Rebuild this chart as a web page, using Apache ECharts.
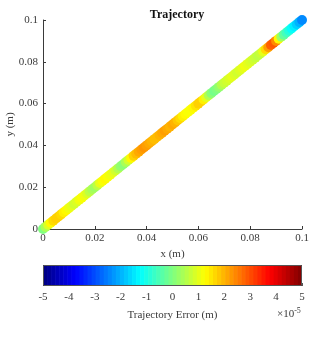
<!DOCTYPE html>
<html><head><meta charset="utf-8">
<script src="https://cdn.jsdelivr.net/npm/echarts@6/dist/echarts.min.js"></script>
<style>html,body{margin:0;padding:0;background:#fff}#c{width:334px;height:339px}</style>
</head><body><div id="c"></div>
<script>
// Trajectory positions (m)
var xPos = [];
var yPos = [];
for (var i = 0; i <= 100; i++) { xPos.push(+(i * 0.001).toFixed(3)); yPos.push(+(i * 0.001).toFixed(3)); }
// Trajectory error, in units of 1e-5 m
var errorE5 = [
 0.0, 0.4, 0.9, 1.3, 1.6, 1.7, 1.7, 1.6, 1.4, 1.3,
 1.1, 1.0, 0.8, 0.9, 1.1, 1.2, 1.1, 0.9, 0.6, 0.4,
 0.3, 0.6, 1.0, 1.2, 1.3, 1.2, 1.1, 1.0, 0.8, 0.5,
 0.2, 0.1, 0.4, 0.8, 1.3, 1.7, 1.9, 2.1, 2.2, 2.3,
 2.2, 2.1, 2.0, 1.9, 1.9, 2.0, 2.1, 2.2, 2.1, 2.0,
 2.1, 2.0, 1.8, 1.6, 1.4, 1.3, 1.2, 1.2, 1.3, 1.5,
 1.7, 1.7, 1.4, 1.0, 0.5, 0.1, -0.1, 0.0, 0.2, 0.5,
 0.7, 0.8, 0.9, 1.0, 0.9, 0.8, 0.9, 1.0, 1.1, 1.0,
 0.9, 0.8, 0.7, 0.6, 0.7, 1.0, 1.6, 2.2, 2.8, 2.9,
 2.4, 1.3, 0.3, -0.3, -0.6, -0.9, -1.2, -1.4, -1.7, -2.0,
 -2.4
];
var xTicks = [0, 0.02, 0.04, 0.06, 0.08, 0.1];
var yTicks = [0, 0.02, 0.04, 0.06, 0.08, 0.1];
var cbTicks = [-5, -4, -3, -2, -1, 0, 1, 2, 3, 4, 5];
var cbMin = -5, cbMax = 5, nColors = 64;

function clamp(v){ return Math.max(0, Math.min(1, v)); }
function jet(t){
  var r = clamp(1.5 - Math.abs(4*t - 3)), g = clamp(1.5 - Math.abs(4*t - 2)), b = clamp(1.5 - Math.abs(4*t - 1));
  return 'rgb(' + Math.round(r*255) + ',' + Math.round(g*255) + ',' + Math.round(b*255) + ')';
}
var jetStops = [];
for (var s = 0; s <= 8; s++) jetStops.push(jet(s/8));

var scatterData = xPos.map(function(x, i){ return [x, yPos[i], errorE5[i]]; });
var cbData = [];
for (var k = 0; k < nColors; k++) {
  var lo = cbMin + (cbMax - cbMin) * k / nColors, hi = cbMin + (cbMax - cbMin) * (k + 1) / nColors;
  cbData.push([lo, hi, (k + 0.5) / nColors]);
}

var txt = '#3a3a3a', ax = '#3a3a3a', ff = '"Liberation Serif", "DejaVu Serif", serif';
var chart = echarts.init(document.getElementById('c'), null, {renderer: 'canvas'});
chart.setOption({
  animation: false,
  backgroundColor: '#fff',
  textStyle: {fontFamily: ff},
  title: {text: 'Trajectory', left: 172, top: 4, textAlign: 'center',
    textStyle: {fontFamily: ff, fontSize: 12, fontWeight: 'bold', color: '#111'}},
  grid: [
    {left: 43, right: 32, top: 20, bottom: 110, containLabel: false, outerBoundsMode: 'none'},
    {left: 43, right: 32, top: 265, height: 21, containLabel: false, outerBoundsMode: 'none'}
  ],
  xAxis: [
    {gridIndex: 0, type: 'value', min: 0, max: 0.1, interval: 0.02,
     name: 'x (m)', nameLocation: 'middle', nameGap: 17,
     nameTextStyle: {fontFamily: ff, fontSize: 11, color: txt},
     axisLine: {show: true, lineStyle: {color: ax, width: 1}},
     axisTick: {show: true, inside: true, length: 3, lineStyle: {color: ax}},
     axisLabel: {fontFamily: ff, fontSize: 11, color: txt, margin: 4},
     splitLine: {show: false}},
    {gridIndex: 1, type: 'value', min: cbMin, max: cbMax, interval: 1,
     name: 'Trajectory Error (m)', nameLocation: 'middle', nameGap: 24,
     nameTextStyle: {fontFamily: ff, fontSize: 11, color: txt},
     axisLine: {show: false},
     axisTick: {show: true, inside: true, length: 3, lineStyle: {color: '#555'}},
     axisLabel: {fontFamily: ff, fontSize: 11, color: txt, margin: 6},
     splitLine: {show: false}}
  ],
  yAxis: [
    {gridIndex: 0, type: 'value', min: 0, max: 0.1, interval: 0.02,
     name: 'y (m)', nameLocation: 'middle', nameGap: 27, nameRotate: 90, nameMoveOverlap: false,
     nameTextStyle: {fontFamily: ff, fontSize: 11, color: txt},
     axisLine: {show: true, lineStyle: {color: ax, width: 1}},
     axisTick: {show: true, inside: true, length: 3, lineStyle: {color: ax}},
     axisLabel: {fontFamily: ff, fontSize: 11, color: txt, margin: 5},
     splitLine: {show: false}},
    {gridIndex: 1, type: 'value', min: 0, max: 1, show: false}
  ],
  visualMap: {show: false, type: 'continuous', min: cbMin, max: cbMax, dimension: 2,
    seriesIndex: 0, inRange: {color: jetStops}},
  series: [
    {type: 'scatter', xAxisIndex: 0, yAxisIndex: 0, data: scatterData,
     symbol: 'circle', symbolSize: 10, clip: false, itemStyle: {opacity: 1}},
    {type: 'custom', xAxisIndex: 1, yAxisIndex: 1, data: cbData, clip: true, z: 1,
     renderItem: function(params, api){
       var p0 = api.coord([api.value(0), 0]), p1 = api.coord([api.value(1), 1]);
       return {type: 'rect', shape: {x: p0[0], y: p1[1], width: p1[0] - p0[0] + 0.6, height: p0[1] - p1[1]},
         style: {fill: jet(api.value(2))}};
     }},
    {type: 'custom', xAxisIndex: 1, yAxisIndex: 1, data: [[cbMin, cbMax]], z: 5, silent: true,
     renderItem: function(params, api){
       var p0 = api.coord([api.value(0), 0]), p1 = api.coord([api.value(1), 1]);
       return {type: 'rect', shape: {x: Math.round(p0[0]) + 0.5, y: Math.round(p1[1]) + 0.5,
         width: Math.round(p1[0] - p0[0]) - 1, height: Math.round(p0[1] - p1[1]) - 1},
         style: {fill: 'none', stroke: '#555', lineWidth: 1}};
     }}
  ],
  graphic: [
    {type: 'text', left: 277, top: 307, z: 100,
     style: {rich: {a: {fontFamily: ff, fontSize: 11, fill: txt}, b: {fontFamily: ff, fontSize: 8, fill: txt, verticalAlign: 'top', padding: [0,0,6,0]}},
       text: '{a|×10}{b|-5}'}}
  ]
});
</script></body></html>
